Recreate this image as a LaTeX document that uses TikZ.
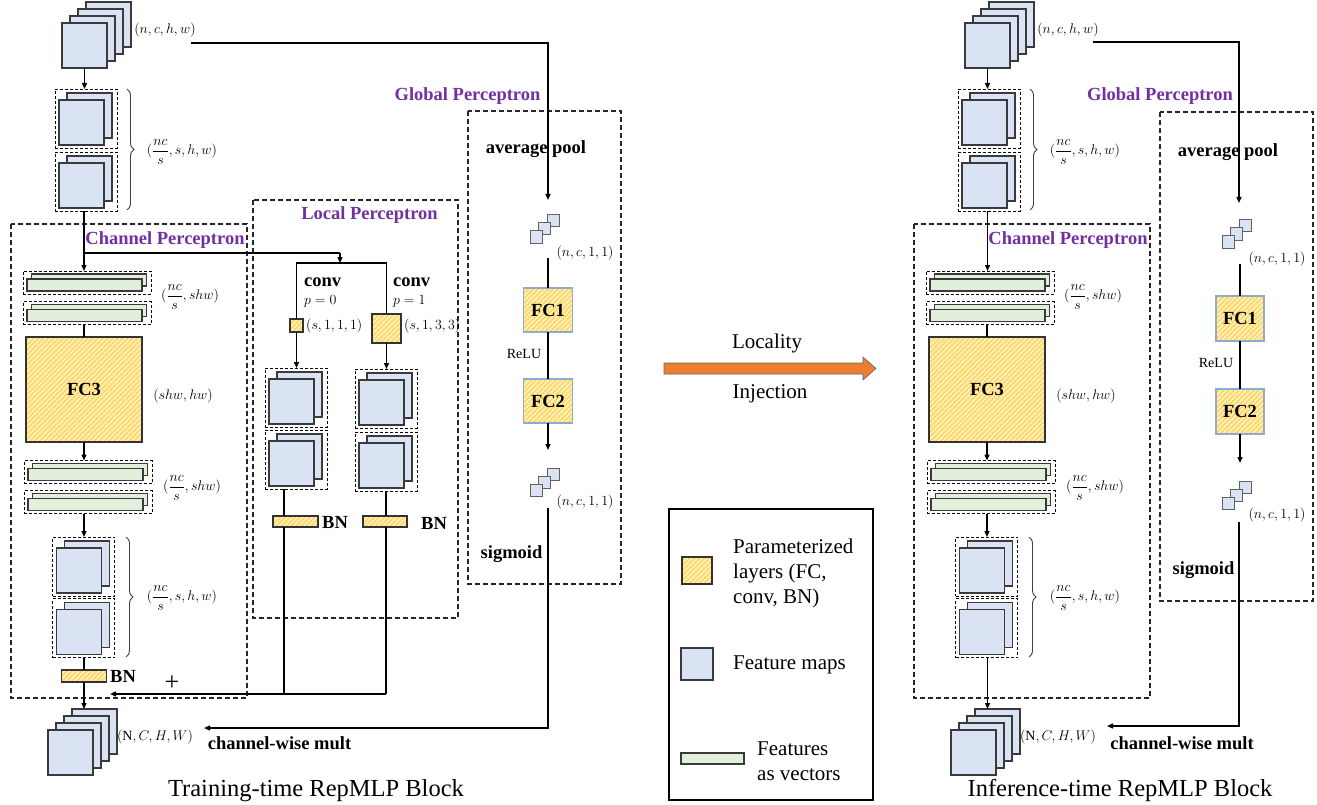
\RequirePackage{fix-cm}
\documentclass[tikz,border=0pt]{standalone}
\usepackage{fontspec}
\setmainfont{Liberation Serif}
\usetikzlibrary{patterns.meta,decorations.pathreplacing,arrows.meta}
\definecolor{fmfill}{HTML}{DAE3F3}
\definecolor{fmedge}{HTML}{3A3A3A}
\definecolor{vecfill}{HTML}{E2EFDA}
\definecolor{parfill}{HTML}{FFD966}
\definecolor{parline}{HTML}{FFF5D9}
\definecolor{purp}{HTML}{7030A0}
\definecolor{orng}{HTML}{ED7D31}
\definecolor{fcedge}{HTML}{8EAAD0}
\tikzset{
  fmap/.style={draw=fmedge, fill=fmfill, line width=1.2pt, minimum width=45pt, minimum height=45pt, inner sep=0pt, outer sep=0pt},
  vbar/.style={draw=fmedge, fill=vecfill, line width=1.2pt, minimum width=115pt, minimum height=12pt, inner sep=0pt, outer sep=0pt},
  cub/.style={draw=fmedge!80, fill=fmfill, line width=1pt, minimum width=12pt, minimum height=12pt, inner sep=0pt, outer sep=0pt},
  grp/.style={draw=black, densely dashed, line width=0.8pt, inner sep=0pt, outer sep=0pt},
  region/.style={draw=black!85, dash pattern=on 5pt off 3pt, line width=1.1pt},
  param/.style={draw=#1, line width=1.1pt, inner sep=0pt, outer sep=0pt, preaction={fill=parfill}, pattern={Lines[angle=45,distance=3.5pt,line width=1.2pt]}, pattern color=parline},
  param/.default=black!80,
  ln/.style={line width=1.4pt, draw=black},
  arr/.style={ln, -{Triangle[length=6pt,width=5pt]}},
  brc/.style={decorate, decoration={brace, amplitude=7pt}, line width=0.9pt, draw=black!75},
  bl/.style={font=\fontsize{18.5}{21}\selectfont\bfseries, inner sep=0pt},
  ptl/.style={bl, text=purp},
  mth/.style={font=\fontsize{14}{16}\selectfont, inner sep=0pt},
  ttl/.style={font=\fontsize{24.5}{28}\selectfont, inner sep=0pt},
  lgd/.style={font=\fontsize{21}{25}\selectfont, inner sep=0pt, align=left},
  pics/fmpair/.style={code={
    \node[grp, minimum width=62pt, minimum height=59pt] (-box) at (0,0) {};
    \node[fmap] (-b) at (3.5,-3) {};
    \node[fmap] (-f) at (-4.5,4) {};}},
  pics/vecpair/.style={code={
    \node[grp, minimum width=128pt, minimum height=23pt] (-box) at (0,0) {};
    \node[vbar] (-b) at (2,-2.5) {};
    \node[vbar] (-f) at (-2.5,2.5) {};}},
  pics/fmstack/.style={code={
    \node[fmap] (-4) at (24,-21) {};
    \node[fmap] (-3) at (16,-14) {};
    \node[fmap] (-2) at (8,-7) {};
    \node[fmap] (-1) at (0,0) {};}},
  pics/cubes/.style={code={
    \node[cub] (-3) at (17,-16) {};
    \node[cub] (-2) at (8.5,-8) {};
    \node[cub] (-1) at (0,0) {};}},
}
\newcommand\chancol[1]{%
  \pic (#1s1) at (84.5,45.5) {fmstack};
  \node[mth] (#1l1) at (165,30) {$(n,c,h,w)$};
  \pic (#1g1) at (86,118.5) {fmpair};
  \pic (#1g2) at (86,181.5) {fmpair};
  \draw[brc] (127,89) -- (127,210);
  \node[mth] (#1l2) at (182,152) {$\displaystyle(\frac{nc}{s},s,h,w)$};
  \draw[region] (11,224) rectangle (247,698);
  \node[ptl] (#1cp) at (165,240) {Channel Perceptron};
  \pic (#1v1) at (87,282.5) {vecpair};
  \pic (#1v2) at (87,313) {vecpair};
  \node[mth] (#1l3) at (190,297) {$\displaystyle(\frac{nc}{s},shw)$};
  \node[param, minimum width=116pt, minimum height=105pt, bl] (#1fc3) at (84,389.5) {FC3};
  \node[mth] (#1l4) at (183,396) {$(shw,hw)$};
  \pic (#1v3) at (88,472) {vecpair};
  \pic (#1v4) at (88,502) {vecpair};
  \node[mth] (#1l5) at (192,488) {$\displaystyle(\frac{nc}{s},shw)$};
  \pic (#1g5) at (83.5,566.5) {fmpair};
  \pic (#1g6) at (83.5,628) {fmpair};
  \draw[brc] (126,537) -- (126,657);
  \node[mth] (#1l6) at (182,598) {$\displaystyle(\frac{nc}{s},s,h,w)$};
  \pic (#1s2) at (70.5,752.5) {fmstack};
  \node[mth] (#1l7) at (155,737) {$(\mathrm{N},C,H,W)$};
  \draw[arr] (#1s1-1.south) -- (#1s1-1.south |- #1g1-box.north);
  \draw[ln] (#1fc3.north |- #1v2-box.south) -- (#1fc3.north);
  \draw[arr] (#1fc3.south) -- (#1fc3.south |- #1v3-box.north);
  \draw[arr] (#1fc3.south |- #1v4-box.south) -- (#1fc3.south |- #1g5-box.north);
}
\begin{document}
\begin{tikzpicture}[x=1pt,y=-1pt]
\useasboundingbox (0,0) rectangle (1317,805);
% ---------------- training-time block ----------------
\chancol{}
\coordinate (jn) at (84,253);
\coordinate (sp) at (340,253);
\coordinate (bc) at (340,263);
\draw[ln] (jn |- g2-box.south) -- (jn);
\draw[arr] (jn) -- (jn |- v1-box.north);
\draw[ln] (jn) -- (sp);
\draw[arr] (sp) -- (bc);
% local perceptron
\draw[region] (253,200) rectangle (458,618);
\node[ptl] (lp) at (369.5,215) {Local Perceptron};
\node[param, minimum width=13pt, minimum height=13pt] (k1) at (296.5,325.5) {};
\node[param, minimum width=29pt, minimum height=29pt] (k3) at (386.5,328.5) {};
\draw[ln] (k1.north) |- (bc) -| (k3.north);
\node[bl, anchor=west] (cv0) at (304,282) {conv};
\node[mth, anchor=west] (p0) at (304,301) {$p=0$};
\node[bl, anchor=west] (cv1) at (393,282) {conv};
\node[mth, anchor=west] (p1) at (393,301) {$p=1$};
\node[mth, anchor=west] (k1l) at (306,326) {$(s,1,1,1)$};
\node[mth, anchor=west] (k3l) at (404,326) {$(s,1,3,3)$};
\pic (lg1) at (296,397.5) {fmpair};
\pic (lg2) at (296,459.5) {fmpair};
\pic (rg1) at (386,398.5) {fmpair};
\pic (rg2) at (386,461.5) {fmpair};
\draw[arr] (k1.south) -- (k1.south |- lg1-box.north);
\draw[arr] (k3.south) -- (k3.south |- rg1-box.north);
\node[param, minimum width=45pt, minimum height=11pt] (bnl) at (295.5,521.5) {};
\node[param, minimum width=44pt, minimum height=11pt] (bnr) at (385,521.5) {};
\node[bl, anchor=west] (bnlt) at (322,522) {BN};
\node[bl, anchor=west] (bnrt) at (421,523) {BN};
\coordinate (cl) at (284,694);
\coordinate (cr) at (386,694);
\coordinate (se) at (110,694);
\draw[ln] (cl |- lg2-box.south) -- (cl |- bnl.north);
\draw[ln] (cl |- bnl.south) -- (cl);
\draw[ln] (cr |- rg2-box.south) -- (cr |- bnr.north);
\draw[ln] (cr |- bnr.south) -- (cr);
\draw[arr] (cr) -- (se);
\node[font=\fontsize{26}{28}\selectfont, inner sep=0pt] (plus) at (172,683) {+};
\node[param, minimum width=45pt, minimum height=12pt] (bn0) at (84,676) {};
\node[bl, anchor=west] (bn0t) at (110,676) {BN};
\draw[ln] (bn0.north |- g6-box.south) -- (bn0.north);
\draw[arr] (bn0.south) -- (bn0.south |- s2-4.north);
% global perceptron (training)
\draw[region] (468,111) rectangle (621,584);
\node[ptl] (gpt) at (467.5,96) {Global Perceptron};
\node[bl] (avg) at (536,149) {average pool};
\coordinate (gs) at (191,43);
\coordinate (gi) at (548,200);
\draw[arr] (gs) -| (gi);
\pic (c1) at (536,237) {cubes};
\node[mth] (c1l) at (585,253) {$(n,c,1,1)$};
\coordinate (ga) at (548,258);
\node[param=fcedge, minimum width=49pt, minimum height=44pt, bl] (fc1) at (548,310) {FC1};
\node[param=fcedge, minimum width=49pt, minimum height=44pt, bl] (fc2) at (548,401) {FC2};
\node[font=\fontsize{14}{16}\selectfont, inner sep=0pt] (relu) at (524,354) {ReLU};
\draw[ln] (ga) -- (fc1.north);
\draw[ln] (fc1.south) -- (fc2.north);
\coordinate (gq) at (548,450);
\draw[arr] (fc2.south) -- (gq);
\pic (c2) at (536,490) {cubes};
\node[mth] (c2l) at (585,502) {$(n,c,1,1)$};
\node[bl] (sig) at (511.5,554) {sigmoid};
\coordinate (gb) at (548,508);
\coordinate (gm) at (204,728);
\draw[arr] (gb) |- (gm);
\node[bl] (cwm) at (279.5,743) {channel-wise mult};
\node[ttl] (t1) at (316,791) {Training-time RepMLP Block};
% ---------------- middle arrow ----------------
\fill[orng, draw=black!60, line width=0.6pt] (664,363) -- (863,363) -- (863,357) -- (876,368.5) -- (863,380) -- (863,374) -- (664,374) -- cycle;
\node[lgd] (loc) at (767,343) {Locality};
\node[lgd] (inj) at (770,394) {Injection};
% ---------------- legend ----------------
\draw[line width=2pt] (669,509) rectangle (873,800);
\node[param, minimum width=30pt, minimum height=27pt] (lgp) at (697,570.5) {};
\node[lgd, anchor=west] (lgpt) at (733,573) {Parameterized\\layers (FC,\\conv, BN)};
\node[fmap, minimum width=32pt, minimum height=32pt] (lgf) at (697,664) {};
\node[lgd, anchor=west] (lgft) at (733,665) {Feature maps};
\node[vbar, minimum width=63pt, minimum height=11pt] (lgv) at (712.5,758.5) {};
\node[lgd, anchor=west] (lgvt) at (757,761) {Features\\as vectors};
% ---------------- inference-time block ----------------
\begin{scope}[xshift=903pt]
\chancol{R}
\draw[arr] (Rs1-1.south |- Rg2-box.south) -- (Rs1-1.south |- Rv1-box.north);
\draw[arr] (Rs1-1.south |- Rg6-box.south) -- (Rs1-1.south |- Rs2-4.north);
\end{scope}
\draw[region] (1160,112) rectangle (1313,601);
\node[ptl] (gptR) at (1160,96) {Global Perceptron};
\node[bl] (avgR) at (1228,152) {average pool};
\coordinate (gsR) at (1093,42);
\coordinate (giR) at (1239,203);
\draw[arr] (gsR) -| (giR);
\pic (c1R) at (1228,242) {cubes};
\node[mth] (c1lR) at (1277,259) {$(n,c,1,1)$};
\coordinate (gaR) at (1240,264);
\node[param=fcedge, minimum width=48pt, minimum height=45pt, bl] (fc1R) at (1240,318.5) {FC1};
\node[param=fcedge, minimum width=48pt, minimum height=45pt, bl] (fc2R) at (1240,411.5) {FC2};
\node[font=\fontsize{14}{16}\selectfont, inner sep=0pt] (reluR) at (1216,363) {ReLU};
\draw[ln] (gaR) -- (fc1R.north);
\draw[ln] (fc1R.south) -- (fc2R.north);
\coordinate (gqR) at (1240,463);
\draw[arr] (fc2R.south) -- (gqR);
\pic (c2R) at (1228,503) {cubes};
\node[mth] (c2lR) at (1277,515) {$(n,c,1,1)$};
\node[bl] (sigR) at (1203.5,570) {sigmoid};
\coordinate (gbR) at (1239,522);
\coordinate (gmR) at (1107,726);
\draw[arr] (gbR) |- (gmR);
\node[bl] (cwmR) at (1182,743) {channel-wise mult};
\node[ttl] (t2) at (1120,790) {Inference-time RepMLP Block};
\end{tikzpicture}
\end{document}
